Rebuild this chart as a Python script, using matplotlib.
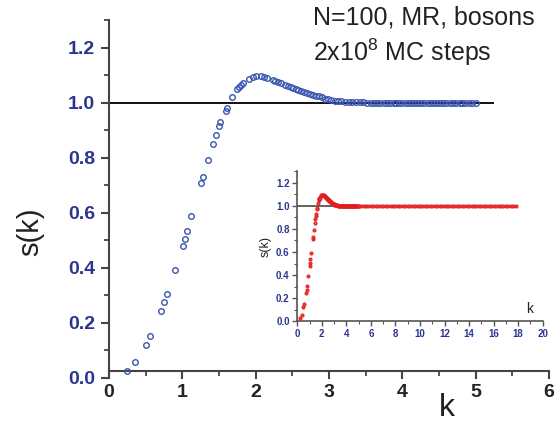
import matplotlib
matplotlib.use("Agg")
import matplotlib.pyplot as plt
from matplotlib.ticker import MultipleLocator

plt.rcParams['font.family'] = ['Liberation Sans', 'DejaVu Sans']
plt.rcParams['mathtext.fontset'] = 'custom'
plt.rcParams['mathtext.rm'] = 'Liberation Sans'

# ---- data ----
k_low = [0.25, 0.35, 0.50, 0.56, 0.71, 0.75, 0.79, 0.90, 1.005, 1.037, 1.064, 1.119,
         1.25, 1.28, 1.35, 1.42, 1.46, 1.50, 1.52, 1.59, 1.61, 1.68, 1.75, 1.77, 1.80,
         1.83, 1.91, 1.96, 2.01, 2.07, 2.12, 2.15, 2.24, 2.27]
s_low = [0.027, 0.058, 0.121, 0.153, 0.245, 0.275, 0.305, 0.394, 0.479, 0.507, 0.536, 0.588,
         0.709, 0.731, 0.794, 0.851, 0.885, 0.915, 0.931, 0.970, 0.982, 1.023, 1.051, 1.058, 1.065,
         1.072, 1.088, 1.093, 1.097, 1.098, 1.096, 1.092, 1.084, 1.080]
k_mid = [2.30, 2.34, 2.40, 2.44, 2.48, 2.51, 2.55, 2.58, 2.62, 2.66, 2.70, 2.74, 2.78, 2.82,
         2.86, 2.90, 2.95, 2.99, 3.03, 3.08, 3.12, 3.17, 3.22, 3.27, 3.32, 3.37, 3.42, 3.47,
         3.52, 3.57, 3.62, 3.66, 3.70, 3.75, 3.79, 3.83, 3.88, 3.92, 3.96, 4.00, 4.05, 4.09,
         4.13, 4.17, 4.22, 4.26, 4.30, 4.35, 4.39, 4.43, 4.47, 4.52, 4.56, 4.60, 4.65, 4.69,
         4.73, 4.78, 4.82, 4.86, 4.91, 4.95, 5.00]
s_mid = [1.077, 1.072, 1.066, 1.061, 1.057, 1.053, 1.050, 1.047, 1.044, 1.040, 1.037, 1.034,
         1.030, 1.027, 1.024, 1.020, 1.016, 1.013, 1.011, 1.009, 1.008, 1.006, 1.005, 1.004,
         1.003, 1.003, 1.002, 1.002, 1.001, 1.001, 1.000, 1.001, 1.000, 0.999, 1.000, 1.001,
         1.000, 0.999, 1.000, 1.001, 1.000, 1.000, 0.999, 1.001, 1.000, 1.000, 0.999, 1.000,
         1.001, 1.000, 1.000, 0.999, 1.000, 1.001, 1.000, 0.999, 1.000, 1.000, 1.001, 1.000,
         0.999, 1.000, 1.000]
k_tail = [5.2, 5.4, 5.6, 5.8, 6.0, 6.2, 6.4, 6.6, 6.8, 7.0, 7.2, 7.4, 7.6, 7.8, 8.0, 8.2,
          8.4, 8.6, 8.8, 9.0, 9.2, 9.4, 9.6, 9.8, 10.0, 10.2, 10.4, 10.6, 10.8, 11.0, 11.2,
          11.4, 11.6, 11.8, 12.0, 12.2, 12.4, 12.6, 12.8, 13.0, 13.2, 13.4, 13.6, 13.8, 14.0,
          14.2, 14.4, 14.6, 14.8, 15.0, 15.2, 15.4, 15.6, 15.8, 16.0, 16.2, 16.4, 16.6, 16.8,
          17.0, 17.2, 17.4, 17.6, 17.8]
s_tail = [1.000, 1.000, 1.000, 1.000, 1.000, 1.000, 1.000, 1.000, 1.000, 1.000, 1.000, 1.000,
          1.000, 1.000, 1.000, 1.000, 1.000, 1.000, 1.000, 1.000, 1.000, 1.000, 1.000, 1.000,
          1.000, 1.000, 1.000, 1.000, 1.000, 1.000, 1.000, 1.000, 1.000, 1.000, 1.000, 1.000,
          1.000, 1.000, 1.000, 1.000, 1.000, 1.000, 1.000, 1.000, 1.000, 1.000, 1.000, 1.000,
          1.000, 1.000, 1.000, 1.000, 1.000, 1.000, 1.000, 1.000, 1.000, 1.000, 1.000, 1.000,
          1.000, 1.000, 1.000, 1.000]
main_xticks = [0, 1, 2, 3, 4, 5, 6]
main_yticks = [0.0, 0.2, 0.4, 0.6, 0.8, 1.0, 1.2]
inset_xticks = [0, 2, 4, 6, 8, 10, 12, 14, 16, 18, 20]
inset_yticks = [0.0, 0.2, 0.4, 0.6, 0.8, 1.0, 1.2]
header1 = "N=100, MR, bosons"
header2 = "2x10$^{8}$ MC steps"

NAVY = '#2b3590'
BLUE = '#3a55b0'
SPINE = '#444444'

fig = plt.figure(figsize=(5.55, 4.24), dpi=100)
ax = fig.add_axes([0.1964, 0.1085, 0.7928, 0.8432])

k_main = k_low + k_mid
s_main = s_low + s_mid
ax.plot(k_main, s_main, 'o', ls='none', ms=4.0, mfc='none', mec=BLUE, mew=1.0, zorder=3)
ax.hlines(1.0, 0, 5.25, color='#111111', lw=1.4, zorder=2)

ax.set_xlim(0, 6)
ax.set_ylim(0, 1.3)
ax.spines['top'].set_visible(False)
ax.spines['right'].set_visible(False)
ax.spines['bottom'].set_position(('data', 0.025))
for sp in ('left', 'bottom'):
    ax.spines[sp].set_color(SPINE)
    ax.spines[sp].set_linewidth(1.5)
ax.set_xticks(main_xticks)
ax.set_yticks(main_yticks)
ax.set_yticklabels([f"{v:.1f}" for v in main_yticks])
ax.xaxis.set_minor_locator(MultipleLocator(0.5))
ax.yaxis.set_minor_locator(MultipleLocator(0.1))
ax.tick_params(axis='both', which='major', direction='out', length=6, width=1.5, color=SPINE)
ax.tick_params(axis='both', which='minor', direction='out', length=3.5, width=1.3, color=SPINE)
ax.tick_params(axis='y', labelsize=14, labelcolor=NAVY, pad=4)
ax.tick_params(axis='x', labelsize=14, labelcolor='#222222', pad=3)
for lab in ax.get_xticklabels() + ax.get_yticklabels():
    lab.set_fontweight('bold')

fig.text(30 / 555, 1 - 232 / 424, 's(k)', rotation=90, fontsize=21, color='#222222',
         ha='center', va='center')
fig.text(447 / 555, 1 - 408 / 424, 'k', fontsize=23, color='#222222', ha='center', va='center')

fig.text(313 / 555, 1 - 25 / 424, header1, fontsize=18, color='#222222', ha='left', va='baseline')
fig.text(313 / 555, 1 - 61 / 424, header2, fontsize=18, color='#222222', ha='left', va='baseline')

# ---- inset ----
ai = fig.add_axes([0.5357, 0.2422, 0.4422, 0.354])
k_in = k_main + k_tail
s_in = s_main + s_tail
ai.hlines(1.0, 0, 18, color='#555555', lw=1.3, zorder=2)
ai.plot(k_in, s_in, 'o', ls='none', ms=2.3, mfc='#f04040', mec='#e01818', mew=0.6, zorder=3)
ai.set_xlim(0, 20)
ai.set_ylim(0, 1.3)
ai.patch.set_alpha(0)
ai.spines['top'].set_visible(False)
ai.spines['right'].set_visible(False)
for sp in ('left', 'bottom'):
    ai.spines[sp].set_color('#555555')
    ai.spines[sp].set_linewidth(1.2)
ai.set_xticks(inset_xticks)
ai.set_yticks(inset_yticks)
ai.set_yticklabels([f"{v:.1f}" for v in inset_yticks])
ai.xaxis.set_minor_locator(MultipleLocator(1))
ai.yaxis.set_minor_locator(MultipleLocator(0.1))
ai.tick_params(axis='both', which='major', direction='out', length=3.5, width=1.0, color='#555555',
               labelsize=7, labelcolor=NAVY, pad=2)
ai.tick_params(axis='both', which='minor', direction='out', length=2, width=0.8, color='#555555')
for lab in ai.get_xticklabels() + ai.get_yticklabels():
    lab.set_fontweight('bold')
ai.text(18.9, 0.11, 'k', fontsize=10, color='#222222', ha='center', va='center')
ai.set_ylabel('s(k)', fontsize=9, color='#222222', labelpad=3)

fig.savefig('out.png', dpi=100)
